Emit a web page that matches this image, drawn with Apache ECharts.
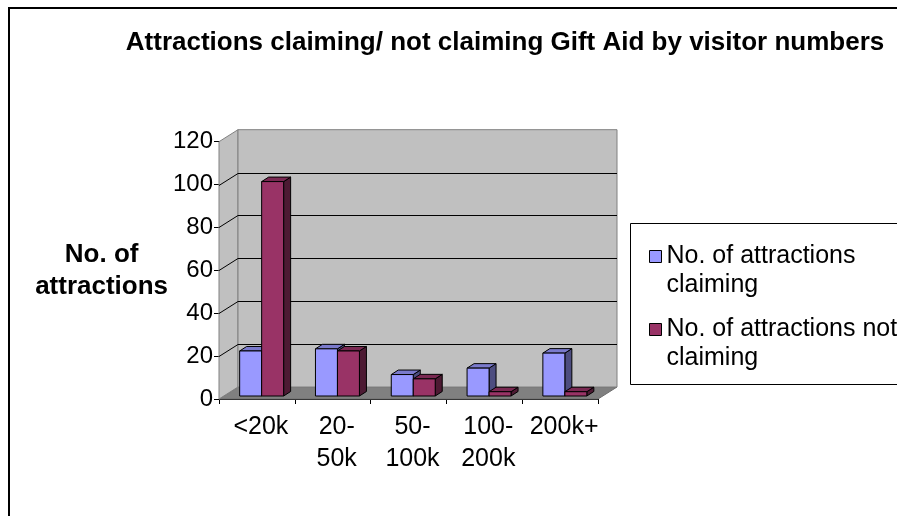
<!DOCTYPE html>
<html>
<head>
<meta charset="utf-8">
<script src="https://cdn.jsdelivr.net/npm/echarts@6/dist/echarts.min.js"></script>
<style>
  html, body { margin: 0; padding: 0; background: #fff; }
  #chart { width: 897px; height: 516px; }
</style>
</head>
<body>
<div id="chart"></div>
<script>
// Visitor-number bands and the attraction counts for each
const categories = ['<20k', '20-\n50k', '50-\n100k', '100-\n200k', '200k+'];
const claiming = [21, 22, 10, 13, 20];
const notClaiming = [100, 21, 8, 2, 2];
const yTicks = [0, 20, 40, 60, 80, 100, 120];
const seriesNames = ['No. of attractions\nclaiming', 'No. of attractions not\nclaiming'];

const FONT = '"Liberation Sans", Arial, sans-serif';

// Pseudo-3D depth of the plot box (back wall offset from front plane)
const DX = 19, DY = -12;
// Bars stand a quarter of the way into the floor and are this deep
const BAR_F = 0.25, BDX = 7, BDY = -4.5;
const BAR_RATIO = 0.29;

const palette = [
  { front: '#9999FF', top: '#7A7ACC', side: '#4D4D80' },
  { front: '#993366', top: '#7A2952', side: '#4D1A33' }
];

function renderWalls(params, api) {
  const cs = params.coordSys;
  const x0 = cs.x, x1 = cs.x + cs.width, y0 = cs.y, y1 = cs.y + cs.height;
  const children = [
    { type: 'polygon', shape: { points: [[x0, y1], [x1, y1], [x1 + DX, y1 + DY], [x0 + DX, y1 + DY]] },
      style: { fill: '#808080', stroke: '#6E6E6E', lineWidth: 1 } },
    { type: 'polygon', shape: { points: [[x0, y0], [x0, y1], [x0 + DX, y1 + DY], [x0 + DX, y0 + DY]] },
      style: { fill: '#C0C0C0', stroke: '#808080', lineWidth: 1 } },
    { type: 'rect', shape: { x: x0 + DX, y: y0 + DY, width: cs.width, height: cs.height },
      style: { fill: '#C0C0C0', stroke: '#808080', lineWidth: 1 } }
  ];
  yTicks.forEach(function (v) {
    if (v === yTicks[0] || v === yTicks[yTicks.length - 1]) return;
    const y = Math.round(api.coord([0, v])[1]) + 0.5;
    children.push({ type: 'polyline', shape: { points: [[x0, y], [x0 + DX, y + DY], [x1 + DX, y + DY]] },
      style: { fill: null, stroke: '#000', lineWidth: 1 } });
  });
  return { type: 'group', children: children };
}

function makeBarRenderer(k) {
  const c = palette[k];
  return function (params, api) {
    const idx = api.value(0), val = api.value(1);
    const base = api.coord([idx, 0]);
    const tip = api.coord([idx, val]);
    const bw = api.size([1, 0])[0] * BAR_RATIO;
    const fx = base[0] + DX * BAR_F + (k === 0 ? -bw : 0);
    const by = base[1] + DY * BAR_F;
    const ty = tip[1] + DY * BAR_F;
    const line = { stroke: '#000', lineWidth: 1 };
    return {
      type: 'group',
      children: [
        { type: 'polygon', shape: { points: [[fx + bw, ty], [fx + bw, by], [fx + bw + BDX, by + BDY], [fx + bw + BDX, ty + BDY]] },
          style: Object.assign({ fill: c.side }, line) },
        { type: 'polygon', shape: { points: [[fx, ty], [fx + bw, ty], [fx + bw + BDX, ty + BDY], [fx + BDX, ty + BDY]] },
          style: Object.assign({ fill: c.top }, line) },
        { type: 'rect', shape: { x: fx, y: ty, width: bw, height: by - ty },
          style: Object.assign({ fill: c.front }, line) }
      ]
    };
  };
}

const chart = echarts.init(document.getElementById('chart'), null, { renderer: 'canvas' });

chart.setOption({
  animation: false,
  backgroundColor: '#fff',
  textStyle: { fontFamily: FONT },
  title: {
    text: 'Attractions claiming/ not claiming Gift Aid by visitor numbers',
    left: 500,
    textAlign: 'center',
    top: 25,
    textStyle: { fontFamily: FONT, fontSize: 26, fontWeight: 'bold', color: '#000' }
  },
  graphic: [
    { type: 'rect', left: 8, top: 7, z: -10, silent: true,
      shape: { width: 900, height: 520 }, style: { fill: '#fff', stroke: '#000', lineWidth: 2 } },
    { type: 'rect', left: 630, top: 223, z: 0, silent: true,
      shape: { width: 300, height: 161 }, style: { fill: '#fff', stroke: '#000', lineWidth: 1 } }
  ],
  legend: {
    orient: 'vertical',
    left: 649,
    top: 213,
    padding: 0,
    itemGap: -14,
    itemWidth: 12,
    itemHeight: 12,
    icon: 'rect',
    itemStyle: { borderColor: '#000', borderWidth: 1 },
    // a blank leading line keeps the first line of each name level with its swatch
    formatter: function (name) { return ' \n' + name; },
    textStyle: { fontFamily: FONT, fontSize: 25, color: '#000', lineHeight: 29 },
    data: seriesNames
  },
  grid: { left: 219, right: 299, top: 141.7, bottom: 117, containLabel: false },
  xAxis: {
    type: 'category',
    data: categories,
    boundaryGap: true,
    axisLine: { lineStyle: { color: '#000', width: 1 } },
    axisTick: { show: true, length: 5, lineStyle: { color: '#000' } },
    axisLabel: { fontFamily: FONT, fontSize: 25, color: '#000', lineHeight: 32, margin: 12,
      interval: 0, padding: [0, 0, 0, 8] },
    splitLine: { show: false }
  },
  yAxis: {
    type: 'value',
    min: 0, max: 120, interval: 20,
    name: 'No. of\nattractions',
    nameLocation: 'middle',
    nameRotate: 0,
    nameGap: 114,
    nameTextStyle: { fontFamily: FONT, fontSize: 26, fontWeight: 'bold', color: '#000', lineHeight: 32, align: 'center' },
    axisLine: { show: true, lineStyle: { color: '#000', width: 1 } },
    axisTick: { show: true, length: 5, lineStyle: { color: '#000' } },
    axisLabel: { fontFamily: FONT, fontSize: 24, color: '#000', margin: 6 },
    splitLine: { show: false }
  },
  series: [
    { type: 'custom', name: 'walls', silent: true, z: 1, renderItem: renderWalls,
      data: [[0, 0]], tooltip: { show: false } },
    { type: 'custom', name: seriesNames[0], z: 3, renderItem: makeBarRenderer(0),
      itemStyle: { color: palette[0].front },
      data: claiming.map(function (v, i) { return [i, v]; }) },
    { type: 'custom', name: seriesNames[1], z: 4, renderItem: makeBarRenderer(1),
      itemStyle: { color: palette[1].front },
      data: notClaiming.map(function (v, i) { return [i, v]; }) }
  ]
});
</script>
</body>
</html>
